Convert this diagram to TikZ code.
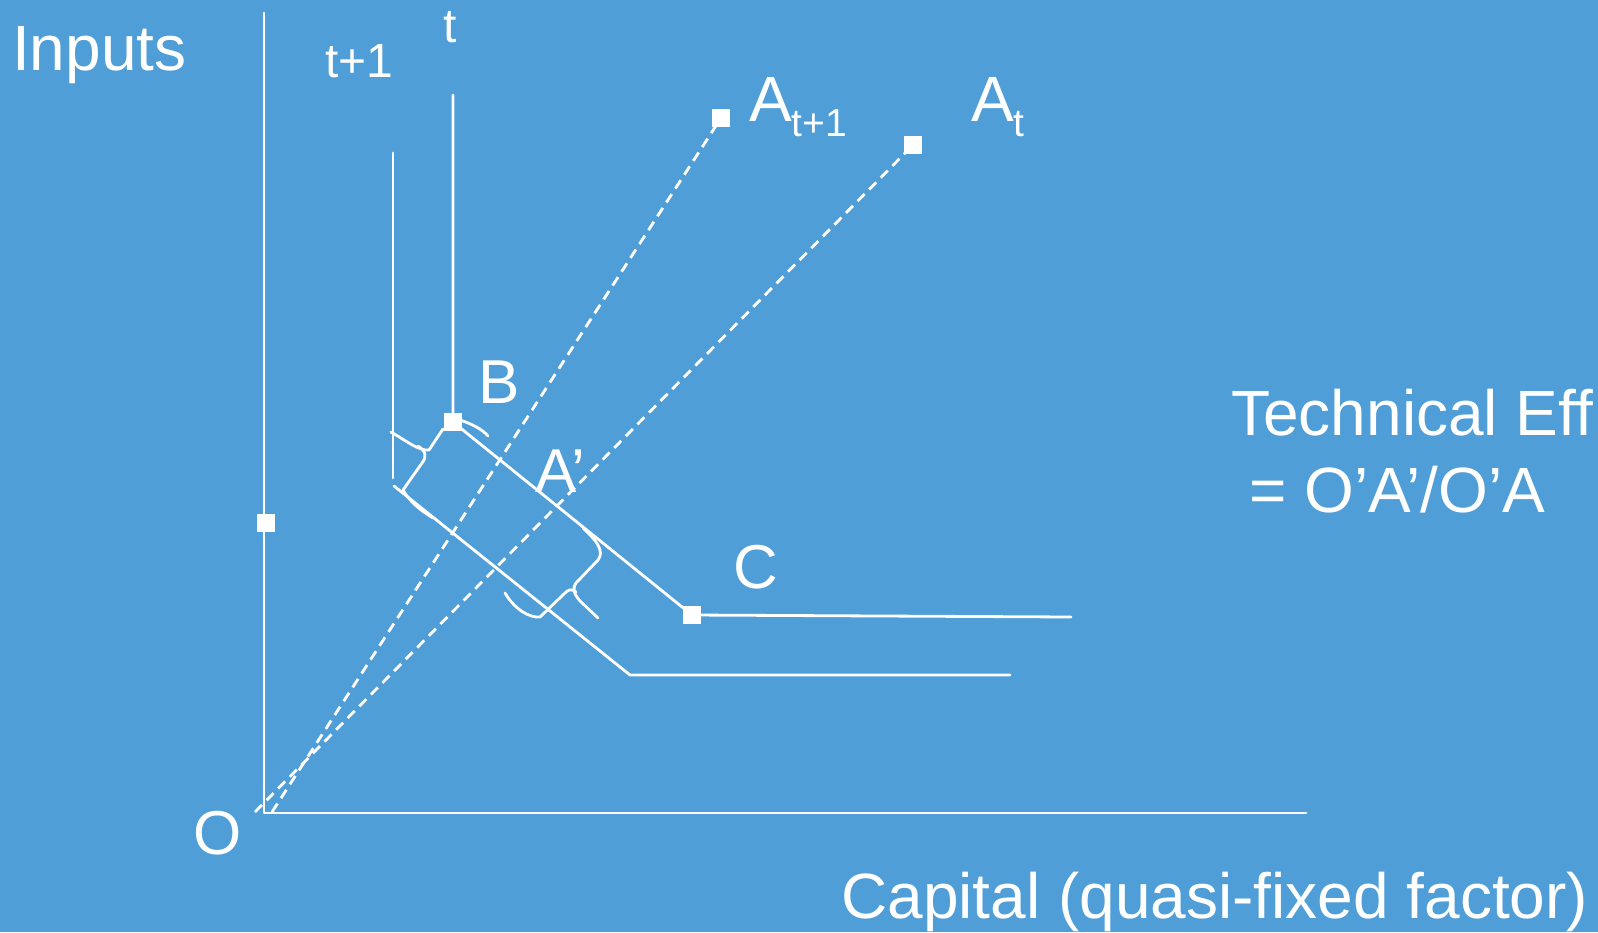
\documentclass[tikz,border=0pt]{standalone}
\usepackage{fontspec}
\setmainfont{Liberation Sans}
\usepackage{tikz}
\usetikzlibrary{positioning}
\definecolor{slideblue}{HTML}{4F9ED7}

\begin{document}
\begin{tikzpicture}[x=1pt, y=-1pt,
            line/.style={draw=white, line width=2.8pt, line join=round, line cap=round},
            ray/.style={draw=white, line width=2.8pt, dash pattern=on 10pt off 6.5pt},
            sq/.style={fill=white, minimum size=18pt, inner sep=0pt},
            lbl/.style={text=white, inner sep=0pt, anchor=base west, font=\fontsize{64}{72}\selectfont},
            pt/.style={lbl, font=\fontsize{62}{70}\selectfont},
            per/.style={lbl, font=\fontsize{48}{56}\selectfont}
        ]
        \useasboundingbox[fill=slideblue] (0,0) rectangle (1598,932);
        \newcommand{\sub}[1]{\raisebox{-15pt}{\fontsize{39}{44}\selectfont #1}}
        % --- axes ---
        \coordinate (O) at (264,813);
        \coordinate (ytop) at (264,13);
        \coordinate (xend) at (1306,813);
        \draw[line] (ytop) -- (O) -- (xend);
        \node[sq] (Y) at (266,523) {};
        % --- rays from the origin ---
        \coordinate (r1) at (255,812);
        \coordinate (r2) at (272,812);
        \node[sq] (At) at (913,145) {};
        \node[sq] (At1) at (721,118) {};
        \draw[ray] (r1) -- (At.center);
        \draw[ray] (r2) -- (At1.center);
        % --- isoquant t ---
        \coordinate (ttop) at (453,95);
        \coordinate (tend) at (1071,617);
        \node[sq] (B) at (453,422) {};
        \node[sq] (C) at (692,615) {};
        \draw[line] (ttop) -- (B.center) -- (C.center) -- (tend);
        % --- isoquant t+1 ---
        \coordinate (stop) at (393,153);
        \coordinate (sbot) at (393,478);
        \coordinate (sdia) at (394,486);
        \coordinate (skink) at (630,675);
        \coordinate (send) at (1010,675);
        \draw[line] (stop) -- (sbot);
        \draw[line] (sdia) -- (skink) -- (send);
        % --- braces ---
        \draw[line] (460,420) .. controls (472,424) and (482,429) .. (488,436);
        \draw[line] (391,432) .. controls (408,442) and (419,451) .. (429,450) -- (443,429);
        \draw[line] (418,446) .. controls (426,451) and (427,457) .. (422,463) -- (403,490)
            .. controls (410,502) and (420,510) .. (433,518);
        \draw[line] (583,528) .. controls (596,540) and (605,551) .. (598,560) -- (576,583)
            .. controls (572,588) and (574,594) .. (580,601) -- (598,618);
        \draw[line] (576,592) .. controls (571,588) and (568,590) .. (565,593) -- (540,617)
            .. controls (530,618) and (515,610) .. (505,593);
        % --- labels ---
        \node[lbl] (inputs) at (12,70) {Inputs};
        \node[per] (lt1) at (325,77) {t+1};
        \node[per] (lt) at (443,42) {t};
        \node[lbl] (lAt1) at (749,121) {A\sub{t+1}};
        \node[lbl] (lAt) at (971,121) {A\sub{t}};
        \node[pt] (lB) at (478,403) {B};
        \node[pt] (lA) at (535,492) {A’};
        \node[pt] (lC) at (733,588) {C};
        \node[pt] (lO) at (193,854) {O};
        \node[lbl] (te) at (1231,435) {Technical Eff};
        \node[lbl] (ratio) at (1249,512) {= O’A’/O’A};
        \node[lbl] (cap) at (841,918) {Capital (quasi-fixed factor)};
        \end{tikzpicture}
\end{document}
